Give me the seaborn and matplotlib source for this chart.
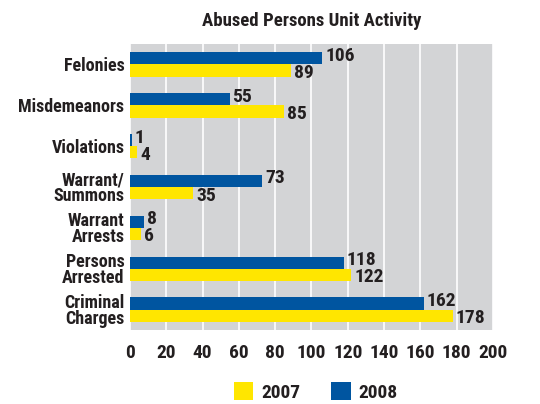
import matplotlib
matplotlib.use("Agg")
import matplotlib.pyplot as plt
from matplotlib.patches import Patch
import seaborn as sns
import pandas as pd

categories = ["Felonies", "Misdemeanors", "Violations", "Warrant/\nSummons",
              "Warrant\nArrests", "Persons\nArrested", "Criminal\nCharges"]
values_2008 = [106, 55, 1, 73, 8, 118, 162]
values_2007 = [89, 85, 4, 35, 6, 122, 178]
years = ["2008", "2007"]
x_ticks = [0, 20, 40, 60, 80, 100, 120, 140, 160, 180, 200]

BLUE = "#0055a0"
YELLOW = "#ffe600"
BG = "#d3d4d6"
TEXT = "#231f20"
FONT = ["Roboto Condensed", "Barlow Condensed", "DejaVu Sans"]
FS = 13
FS_NUM = 14

df = pd.DataFrame({
    "category": categories * 2,
    "year": ["2008"] * len(categories) + ["2007"] * len(categories),
    "count": values_2008 + values_2007,
})

sns.set_theme(style="white")
plt.rcParams["font.family"] = FONT
plt.rcParams["font.weight"] = "bold"

fig = plt.figure(figsize=(5.4, 4.04), dpi=100)
ax = fig.add_axes([0.2407, 0.183, 0.672, 0.708])
ax.set_facecolor(BG)

sns.barplot(data=df, y="category", x="count", hue="year", hue_order=years,
            order=categories, orient="h", palette=[BLUE, YELLOW],
            width=0.6, linewidth=0, saturation=1, legend=False, ax=ax)

ax.set_xlim(0, 200)
ax.set_ylim(6.5, -0.5)
ax.set_xticks(x_ticks)
ax.xaxis.grid(True, color="white", linewidth=1.2)
ax.yaxis.grid(False)
ax.set_axisbelow(True)
for s in ax.spines.values():
    s.set_visible(False)
ax.tick_params(axis="both", length=0)
ax.tick_params(axis="x", pad=10, labelsize=FS_NUM, labelcolor=TEXT)
ax.tick_params(axis="y", pad=4, labelsize=FS, labelcolor=TEXT)
for lbl in ax.get_yticklabels():
    lbl.set_fontweight("bold")
    lbl.set_linespacing(0.85)
    lbl.set_horizontalalignment("right")
for lbl in ax.get_xticklabels():
    lbl.set_fontweight("bold")
ax.set_xlabel("")
ax.set_ylabel("")

# value labels at the end of each bar
for container, vals, dy in zip(ax.containers, [values_2008, values_2007], [-0.06, 0.06]):
    for bar, v in zip(container, vals):
        y = bar.get_y() + bar.get_height() / 2 + dy
        ax.text(bar.get_width() + 1.5, y, str(v), va="center", ha="left",
                fontsize=FS_NUM, fontweight="bold", color=TEXT)

fig.text(0.577, 0.948, "Abused Persons Unit Activity", ha="center", va="center",
         fontsize=13.5, fontweight="bold", color=TEXT)

handles = [Patch(facecolor=YELLOW, edgecolor="none", label="2007"),
           Patch(facecolor=BLUE, edgecolor="none", label="2008")]
leg = fig.legend(handles=handles, loc="center", bbox_to_anchor=(0.585, 0.03),
                 ncol=2, frameon=False, handlelength=1.0, handleheight=1.0,
                 handletextpad=0.4, columnspacing=1.6, prop={"size": FS_NUM, "weight": "bold"})
for t in leg.get_texts():
    t.set_color(TEXT)

fig.savefig("out.png", dpi=100, facecolor="white")
